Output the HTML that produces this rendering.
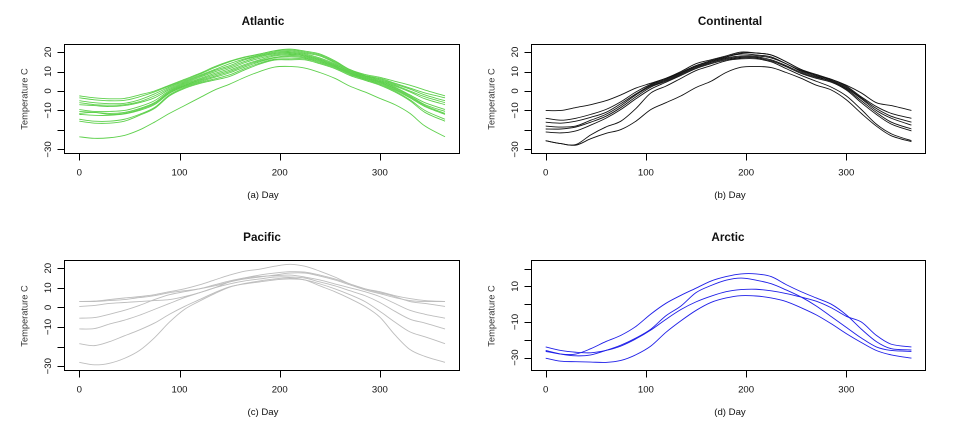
<!DOCTYPE html>
<html>
<head>
<meta charset="utf-8">
<title>Temperature curves by climate region</title>
<style>
html,body{margin:0;padding:0;background:#fff;width:972px;height:431px;overflow:hidden}
svg{display:block}
text{font-family:"Liberation Sans",sans-serif;fill:#111}
.title{font-size:11.7px;font-weight:bold;text-anchor:middle}
.tick{font-size:9.6px;text-anchor:middle}
.xlab{font-size:9.6px;text-anchor:middle}
.ylab{font-size:9.3px;text-anchor:middle;fill:#333}
.frame{fill:none;stroke:#000;stroke-width:1}
</style>
</head>
<body>
<svg id="chart" width="972" height="431" viewBox="0 0 972 431" xmlns="http://www.w3.org/2000/svg">
  <rect x="0" y="0" width="972" height="431" fill="#fff"/>

  <text class="title" x="263" y="25">Atlantic</text>
  <text class="title" x="730" y="25">Continental</text>
  <text class="title" x="262" y="241">Pacific</text>
  <text class="title" x="728" y="241">Arctic</text>

  <rect class="frame" x="64.5" y="44.5" width="395" height="109"/>
  <rect class="frame" x="531.5" y="44.5" width="394" height="109"/>
  <rect class="frame" x="64.5" y="260.5" width="395" height="110"/>
  <rect class="frame" x="531.5" y="260.5" width="394" height="110"/>

  <text class="xlab" x="263" y="198">(a) Day</text>
  <text class="xlab" x="730" y="198">(b) Day</text>
  <text class="xlab" x="263" y="415">(c) Day</text>
  <text class="xlab" x="730" y="415">(d) Day</text>

  <text class="ylab" transform="translate(27.5,99) rotate(-90)">Temperature C</text>
  <text class="ylab" transform="translate(494.5,99) rotate(-90)">Temperature C</text>
  <text class="ylab" transform="translate(27.5,316) rotate(-90)">Temperature C</text>
  <text class="ylab" transform="translate(494.5,316) rotate(-90)">Temperature C</text>
</svg>

<script>
const days = [0,15,30,45,60,75,90,105,120,135,150,165,180,195,210,225,240,255,270,285,300,315,330,345,365];
const xTicks = [0,100,200,300];
const yTicks = [-30,-20,-10,0,10,20];
const yLabelsAtlantic = [-30,-10,0,10,20];
const yLabelsContinental = [-30,-10,0,10,20];
const yLabelsPacific = [-30,-10,0,10,20];
const yLabelsArctic = [-30,-10,10];

const atlanticCurves = [
  [-2.5,-3.5,-4,-3.8,-2,0,3,6,9,12.5,15.3,17.5,19,20.5,21,20,18.5,15,11,8.5,7,5,3,0.5,-2.5],
  [-3.5,-4.5,-5,-4.8,-3,-0.5,2.6,5.5,8.6,12,15,17.2,18.9,20.7,21.5,20.5,19,15.5,11,8,6.5,4,1.5,-1,-3.5],
  [-5,-6,-6.5,-6.3,-4.5,-1.5,2,5,8,11,14,16.5,18.4,20,20.5,19.5,18,14.5,10.5,7.8,6,3.5,1,-2,-5],
  [-6,-7,-7.3,-7,-5.5,-2.5,1.4,4.5,7.5,10.5,13,16,18,19.5,20,19,17,14,10,7.5,5.5,3,0,-3,-6],
  [-7,-7.5,-8,-7.5,-6,-3.5,0.8,4,7,9.8,12.3,15.2,17.5,19,19.5,18.5,16.5,13.5,10,7,5,2.5,-0.5,-4,-7],
  [-9.5,-10.5,-10.5,-10,-8,-5,0.2,3.5,6.3,9,11.5,14.5,16.8,18.5,19,18,16,13,9.5,7,5,2,-2,-6,-9.5],
  [-10.5,-11,-11.5,-11,-9,-6,-0.3,3,5.8,8.3,10.7,13.6,16,18,18.5,18,16,13,9.5,6.5,4.5,1.5,-2.5,-7,-10.5],
  [-11.5,-11,-12,-11.5,-9.5,-6.5,-0.8,2.7,5.3,7.6,10,13,15.5,17.3,18,17.5,15.5,12.5,9,6.5,4.5,1,-3,-7.5,-11.5],
  [-12,-12.5,-12.5,-11.8,-10,-7,-1.2,2.3,4.8,7,9.3,12.3,15,17,17.5,17,15,12.5,9,6,4,0.5,-3.5,-8,-12],
  [-14.5,-15.5,-15.5,-14.5,-12,-8.5,-2,1.8,4.3,6.2,8.3,11.5,14.3,16.3,16.5,16.5,14.5,12,8.5,6,3.5,0,-4.5,-10,-14.5],
  [-15.5,-16.5,-16.5,-15.5,-12.5,-9,-2.5,1.3,3.8,5.6,7.5,10.8,13.8,15.9,16,16,14,11.5,8,5.5,3,-0.5,-5,-11,-15.5],
  [-23.5,-24.3,-24,-22.8,-20,-16,-11.5,-7.5,-3.5,0.5,3.5,7,10,12.3,12.6,11.8,9.5,6.5,2.5,-0.5,-3.8,-7,-11.5,-18,-23.5]
];

const continentalCurves = [
  [-10,-10,-8.5,-7,-5,-2,1.5,4,6.5,9.5,13,15.5,17.5,19.5,19.5,18.5,15,11,8,6,3,-1,-6,-7.5,-10],
  [-14,-15,-14,-12,-9.5,-5.5,-0.5,3.5,6.5,10,14,16,18,20,19.5,18.5,15,11,8.5,6,2.5,-3,-8,-11.5,-14],
  [-16,-16.5,-15.5,-13.5,-11,-6.5,-1.5,3,6,9.5,13,15.5,17.5,19,18.5,17.5,14,10.5,8,5.5,2,-3.5,-9,-13,-16],
  [-18,-18.5,-18,-15,-12,-7.5,-2,2.5,5.5,9,12.5,15,17,18,18,17,14,10,7.5,5,1.5,-4,-10,-14,-17.5],
  [-19.5,-19.5,-18.5,-16,-13,-8.5,-3,2,5,8.5,12,14.5,16.5,17.5,17.5,16,13,9.5,7,5,1,-5,-11,-16,-19.5],
  [-21,-21.5,-20.5,-17.5,-14,-9.5,-4,1,4.5,8,11.5,14,16,17,17,15.5,12.5,9,6.5,4.5,0.5,-6,-12,-17,-20.5],
  [-25.5,-27,-27.5,-22.5,-18.5,-15.5,-9,-1,2.5,6.5,10.5,13,15.5,16.5,16.5,15,11.5,8,5,2,-2.5,-9.5,-17,-22,-25.5],
  [-25.5,-27,-27.8,-24.5,-21.8,-19.8,-15.5,-9.5,-6,-2.5,1.8,5,9.5,12.2,12.6,12,9.5,6.5,3,0.5,-4.5,-11.5,-18,-23,-26]
];

const pacificCurves = [
  [3,3.2,4,4.8,5.5,6.5,8,9.5,11.5,14,16.5,18.5,19.5,21,22,21,18.5,15.5,12,9.5,8,6,4.5,3.5,3],
  [0.5,1,2,2.5,3,3.5,4,5.5,7.5,10,13,15,16.5,17.5,18.2,18,16.5,14.5,12,9.5,7.5,5.5,3,2,0.5],
  [3,3,3.5,4,5,6,7.5,8.5,9.5,11,13,14.5,15.5,16.5,17.5,17.5,16,14,11.5,9,7,5,3.5,3,3],
  [-5.5,-5.2,-3.5,-1.5,1,4,6.5,8,9.5,11.5,13.5,15,15.8,16.2,16.5,15.5,14,12,10,8,5.5,2,-1.5,-3.5,-5.5],
  [-11,-10.8,-8.5,-6.5,-4,-1,2,5,7.5,10,12,13.5,14.5,15.5,15.5,15,13,11,8.5,6,2.5,-2,-6,-8,-11],
  [-18.5,-19.5,-17.5,-14.5,-11.5,-8,-3.5,0.5,4,7.5,10.5,12,13,14,14.5,14,12,9.5,6.5,3,-2,-7.5,-12.5,-15,-18.5],
  [-28,-29.3,-28.5,-26,-22,-15.5,-7.5,-1,3.2,7,10.3,12.2,13.5,14.5,15,14,11,8,4.5,0.5,-5,-14,-21.5,-25,-28]
];

const arcticCurves = [
  [-26.5,-28,-28,-25,-21,-17.5,-12.5,-5.5,0.5,5,9,13,15.5,17,17,15.5,11,7,3.5,0,-6,-14,-21,-25,-25.7],
  [-26,-28,-29,-28.5,-26,-23,-19,-14,-6.5,-1,6.5,10.5,13.5,14.7,13.5,11.5,8,4,-1,-7,-13,-19,-24,-26,-26.5],
  [-24,-26,-27,-27.3,-26,-23.5,-19.5,-14.5,-8.5,-3,1.3,4.5,7,8.2,8.4,7.5,6,4,1.7,-2,-6.8,-10,-17.5,-22.5,-24],
  [-30.3,-32,-32.3,-32.5,-32.7,-31.6,-28.4,-23.5,-15.8,-9.3,-3.5,1,3.5,4.8,4.6,3.5,1.5,-2,-6,-11,-16.5,-21.5,-26,-28.5,-30.3]
];

const svg = document.getElementById('chart');
const NS = 'http://www.w3.org/2000/svg';

function makeLine(x1, y1, x2, y2) {
  const l = document.createElementNS(NS, 'line');
  l.setAttribute('x1', x1);
  l.setAttribute('y1', y1);
  l.setAttribute('x2', x2);
  l.setAttribute('y2', y2);
  l.setAttribute('stroke', '#000');
  l.setAttribute('stroke-width', '1');
  return l;
}

function smoothPath(xs, ys) {
  let d = 'M' + xs[0].toFixed(2) + ' ' + ys[0].toFixed(2);
  for (let i = 0; i < xs.length - 1; i++) {
    const p = Math.max(i - 1, 0), n = Math.min(i + 2, xs.length - 1);
    const c1x = xs[i] + (xs[i + 1] - xs[p]) / 6;
    const c1y = ys[i] + (ys[i + 1] - ys[p]) / 6;
    const c2x = xs[i + 1] - (xs[n] - xs[i]) / 6;
    const c2y = ys[i + 1] - (ys[n] - ys[i]) / 6;
    d += 'C' + c1x.toFixed(2) + ' ' + c1y.toFixed(2) + ' ' + c2x.toFixed(2) + ' ' + c2y.toFixed(2) + ' ' + xs[i + 1].toFixed(2) + ' ' + ys[i + 1].toFixed(2);
  }
  return d;
}

function drawPanel(panelName, curves, yLabels, color, left, bottom, labelX, x0, y0, yk) {
  const xScale = function (day) { return x0 + day * 1.002; };
  const yScale = function (v) { return y0 - v * yk; };

  curves.forEach(function (values, i) {
    const path = document.createElementNS(NS, 'path');
    path.setAttribute('d', smoothPath(days.map(xScale), values.map(yScale)));
    path.setAttribute('fill', 'none');
    path.setAttribute('stroke', color);
    path.setAttribute('stroke-width', '0.9');
    
    
    svg.appendChild(path);
  });

  xTicks.forEach(function (t) {
    const px = Math.round(xScale(t)) + 0.5;
    const tick = makeLine(px, bottom, px, bottom + 7);
    
    
    svg.appendChild(tick);
    const label = document.createElementNS(NS, 'text');
    label.setAttribute('class', 'tick');
    label.setAttribute('x', xScale(t));
    label.setAttribute('y', bottom + 22);
    
    
    label.textContent = String(t);
    svg.appendChild(label);
  });

  yTicks.forEach(function (t) {
    const py = Math.round(yScale(t)) + 0.5;
    const tick = makeLine(left - 7, py, left, py);
    
    
    svg.appendChild(tick);
  });

  yLabels.forEach(function (t) {
    const label = document.createElementNS(NS, 'text');
    label.setAttribute('class', 'tick');
    label.setAttribute('transform', 'translate(' + labelX + ',' + yScale(t) + ') rotate(-90)');
    
    
    label.textContent = String(t).replace('-', '\u2212');
    svg.appendChild(label);
  });
}

drawPanel('atlantic', atlanticCurves, yLabelsAtlantic, '#5ed04c', 64.5, 153.5, 51, 79.3, 91, 1.948);
drawPanel('continental', continentalCurves, yLabelsContinental, '#111111', 531.5, 153.5, 518, 545.7, 91, 1.948);
drawPanel('pacific', pacificCurves, yLabelsPacific, '#bdbdbd', 64.5, 370.5, 51, 79.3, 307.4, 1.96);
drawPanel('arctic', arcticCurves, yLabelsArctic, '#1f1fe8', 531.5, 370.5, 518, 545.7, 304.2, 1.78);
</script>
</body>
</html>
